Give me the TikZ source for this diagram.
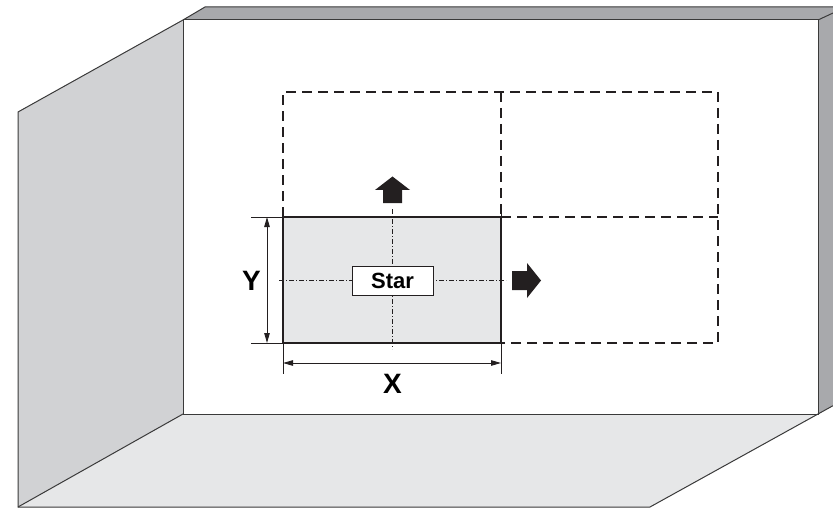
\documentclass[tikz,border=0pt]{standalone}
\usepackage{fontspec}
\setmainfont{Liberation Sans}
\usetikzlibrary{arrows.meta}
\definecolor{edgec}{HTML}{3A3A3A}
\definecolor{leftwall}{HTML}{D1D2D4}
\definecolor{floorc}{HTML}{E6E7E8}
\definecolor{stripc}{HTML}{A8A9AC}
\definecolor{cellc}{HTML}{E6E7E8}
\definecolor{inkc}{HTML}{231F20}
\begin{document}
\begin{tikzpicture}[x=1pt,y=-1pt,
  roomline/.style={draw=edgec,line width=1pt,line join=miter},
  gridline/.style={draw=inkc,line width=2.3pt,dash pattern=on 10pt off 6pt},
  solidcell/.style={draw=inkc,line width=2.4pt,fill=cellc},
  thinline/.style={draw=inkc,line width=0.8pt},
  dimline/.style={draw=inkc,line width=0.9pt,{Triangle[length=10pt,width=5.5pt]}-{Triangle[length=10pt,width=5.5pt]}},
  centreline/.style={draw=inkc,line width=0.6pt,dash pattern=on 5pt off 2pt on 1pt off 2pt},
  starbox/.style={draw=inkc,line width=0.9pt,fill=white,minimum width=81pt,minimum height=29pt,inner sep=0pt,font=\bfseries\fontsize{22}{22}\selectfont},
  dimlabel/.style={inner sep=0pt,font=\bfseries\fontsize{28}{28}\selectfont},
  blockarrow/.style={fill=inkc}]
\useasboundingbox (0,0) rectangle (833,508);
% room
\fill[leftwall] (183,20)--(18,112)--(18,507)--(183,414)--cycle;
\fill[floorc] (18,507)--(183,414)--(818,414)--(650,507)--cycle;
\fill[stripc] (183,20)--(205,7)--(833,7)--(833,13)--(818,20)--cycle;
\fill[stripc] (818,20)--(833,13)--(833,405.7)--(818,414)--cycle;
\draw[roomline] (183,20) rectangle (818,414);
\draw[roomline] (183,20)--(18,112)--(18,507)--(650,507)--(833,405.7);
\draw[roomline] (18,507)--(183,414);
\draw[roomline] (183,20)--(205,7)--(833,7);
\draw[roomline] (818,20)--(833,13);
% grid coordinates
\coordinate (g00) at (283,92);
\coordinate (g10) at (501,92);
\coordinate (g20) at (718,92);
\coordinate (g01) at (283,217);
\coordinate (g11) at (501,217);
\coordinate (g21) at (718,217);
\coordinate (g02) at (283,343);
\coordinate (g12) at (501,343);
\coordinate (g22) at (718,343);
% dashed cells
\draw[gridline] (g01)--(g00)--(g20)--(g22)--(g12);
\draw[gridline] (g10)--(g11);
\draw[gridline] (g11)--(g21);
% solid cell
\draw[solidcell] (g01) rectangle (g12);
% extension lines
\coordinate (eyt) at (251,217);
\coordinate (eyb) at (251,343);
\coordinate (exl) at (283,374);
\coordinate (exr) at (501,374);
\coordinate (exrt) at (501,206);
\draw[thinline] (eyt)--(g01);
\draw[thinline] (eyb)--(g02);
\draw[thinline] (g02)--(exl);
\draw[thinline] (exrt)--(exr);
% centre lines
\coordinate (cvt) at (392.5,209);
\coordinate (cvb) at (392.5,349);
\coordinate (chl) at (279,280.5);
\coordinate (chr) at (506,280.5);
\draw[centreline] (cvt)--(cvb);
\draw[centreline] (chl)--(chr);
% star label
\node[starbox] (star) at (392.5,280.5) {Star};
% dimensions
\coordinate (dyt) at (267,217);
\coordinate (dyb) at (267,343);
\coordinate (dxl) at (283,363);
\coordinate (dxr) at (501,363);
\draw[dimline] (dyt)--(dyb);
\draw[dimline] (dxl)--(dxr);
\node[dimlabel] (ylab) at (251.5,280.5) {Y};
\node[dimlabel] (xlab) at (392.5,383.5) {X};
% block arrows
\fill[blockarrow] (383,203)--(383,190)--(375,190)--(392.5,176.5)--(410,190)--(402,190)--(402,203)--cycle;
\fill[blockarrow] (512,271)--(527,271)--(527,263)--(541,280.5)--(527,298)--(527,290)--(512,290)--cycle;
\end{tikzpicture}
\end{document}
